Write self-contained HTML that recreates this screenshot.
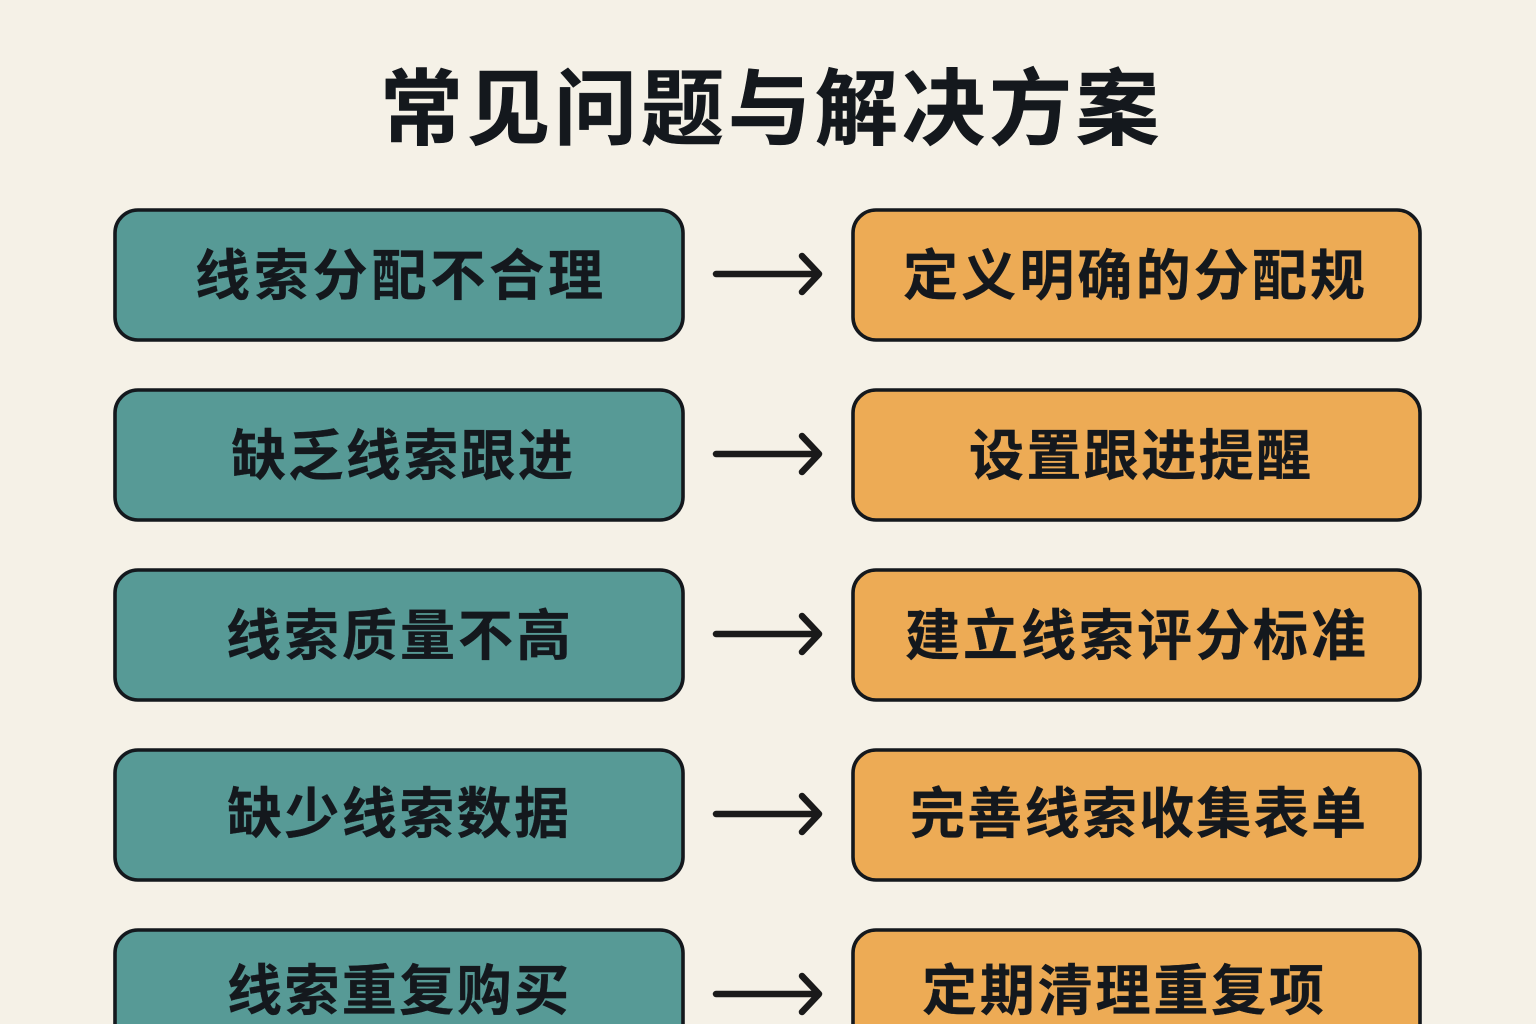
<!DOCTYPE html>
<html lang="zh-CN">
<head>
<meta charset="utf-8">
<title>常见问题与解决方案</title>
<style>
html,body{margin:0;padding:0;width:1536px;height:1024px;overflow:hidden;background:#f5f1e7}
svg{display:block}
text{font-family:"Liberation Sans","Noto Sans CJK SC",sans-serif;font-weight:700;fill:#14181d;stroke:#14181d;stroke-width:.3;font-size:55px}
.h{font-size:83px;stroke-width:.6}
.b{stroke:#14181d;stroke-width:3.6}
.t{fill:#579a96}
.o{fill:#edab55}
.a{fill:none;stroke:#1a1a1a;stroke-width:6.5;stroke-linecap:round;stroke-linejoin:round}
</style>
</head>
<body>
<svg width="1536" height="1024" viewBox="0 0 1536 1024" xmlns="http://www.w3.org/2000/svg">
<rect width="1536" height="1024" fill="#f5f1e7"/>
<text class="h" x="380" y="138" textLength="779" lengthAdjust="spacing">常见问题与解决方案</text>

<rect class="b t" x="115" y="210" width="568" height="130" rx="23"/>
<rect class="b o" x="853" y="210" width="567" height="130" rx="23"/>
<path class="a" d="M716 274H818M802 256L819 274L802 292"/>
<text x="195" y="295" textLength="408" lengthAdjust="spacing">线索分配不合理</text>
<text x="903" y="295" textLength="462" lengthAdjust="spacing">定义明确的分配规</text>

<rect class="b t" x="115" y="390" width="568" height="130" rx="23"/>
<rect class="b o" x="853" y="390" width="567" height="130" rx="23"/>
<path class="a" d="M716 454H818M802 436L819 454L802 472"/>
<text x="231" y="475" textLength="342" lengthAdjust="spacing">缺乏线索跟进</text>
<text x="969" y="475" textLength="342" lengthAdjust="spacing">设置跟进提醒</text>

<rect class="b t" x="115" y="570" width="568" height="130" rx="23"/>
<rect class="b o" x="853" y="570" width="567" height="130" rx="23"/>
<path class="a" d="M716 634H818M802 616L819 634L802 652"/>
<text x="226" y="655" textLength="345" lengthAdjust="spacing">线索质量不高</text>
<text x="905" y="655" textLength="461" lengthAdjust="spacing">建立线索评分标准</text>

<rect class="b t" x="115" y="750" width="568" height="130" rx="23"/>
<rect class="b o" x="853" y="750" width="567" height="130" rx="23"/>
<path class="a" d="M716 814H818M802 796L819 814L802 832"/>
<text x="227" y="833" textLength="342" lengthAdjust="spacing">缺少线索数据</text>
<text x="910" y="833" textLength="456" lengthAdjust="spacing">完善线索收集表单</text>

<rect class="b t" x="115" y="930" width="568" height="130" rx="23"/>
<rect class="b o" x="853" y="930" width="567" height="130" rx="23"/>
<path class="a" d="M716 994H818M802 976L819 994L802 1012"/>
<text x="227" y="1010" textLength="342" lengthAdjust="spacing">线索重复购买</text>
<text x="922" y="1010" textLength="402" lengthAdjust="spacing">定期清理重复项</text>
</svg>
</body>
</html>
